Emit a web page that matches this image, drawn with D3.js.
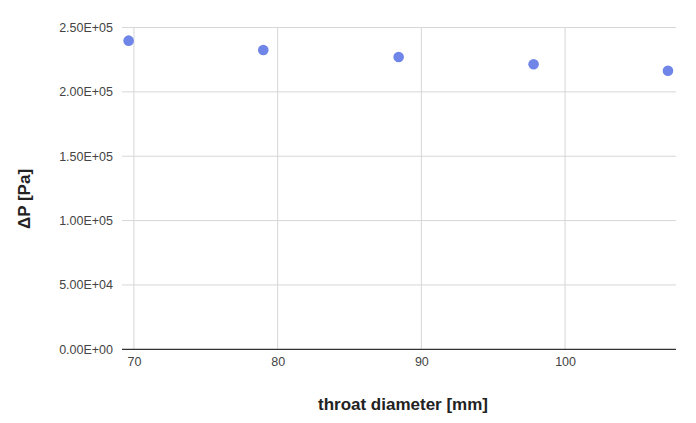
<!DOCTYPE html>
<html>
<head>
<meta charset="utf-8">
<script src="https://cdn.jsdelivr.net/npm/d3@7"></script>
<style>
  body { margin: 0; background: #fff; font-family: "Liberation Sans", Arial, sans-serif; }
  .grid line { stroke: #d6d6d6; stroke-width: 1; }
  .tick text { fill: #444; font-size: 12.5px; }
</style>
</head>
<body>
<svg id="chart"></svg>
<script>
  // data
  let throatDiameter = [69.63, 79.0, 88.42, 97.81, 107.16]   // mm
  let pressureDrop = [239800, 232500, 227100, 221400, 216400]  // Pa
  let yTicks = [0, 50000, 100000, 150000, 200000, 250000]
  let xTicks = [70, 80, 90, 100]

  let width = 696, height = 423
  let margin = { top: 27.5, right: 20, bottom: 73.7, left: 122 }
  let bodyWidth = width - margin.left - margin.right
  let bodyHeight = height - margin.top - margin.bottom

  let svg = d3.select("#chart").attr("width", width).attr("height", height)

  let x = d3.scaleLinear().domain([69.17, 107.72]).range([0, bodyWidth])
  let y = d3.scaleLinear().domain([0, 250000]).range([bodyHeight, 0])

  let body = svg.append("g").attr("transform", `translate(${margin.left},${margin.top})`)

  // horizontal gridlines
  body.append("g").attr("class", "grid")
    .selectAll("line").data(yTicks.slice(1)).enter().append("line")
    .attr("x1", 0).attr("x2", bodyWidth)
    .attr("y1", d => y(d)).attr("y2", d => y(d))

  // vertical gridlines
  body.append("g").attr("class", "grid")
    .selectAll("line").data(xTicks).enter().append("line")
    .attr("x1", d => x(d)).attr("x2", d => x(d))
    .attr("y1", 0).attr("y2", bodyHeight)

  // y axis labels (no domain line)
  let axisY = d3.axisLeft(y).tickValues(yTicks).tickSize(0).tickPadding(9)
    .tickFormat(d => {
      let s = d.toExponential(2).toUpperCase()
      return s.replace(/E([+-])(\d)$/, "E$10$2")
    })
  body.append("g").call(axisY).call(g => g.select(".domain").remove())

  // x axis labels
  let axisX = d3.axisBottom(x).tickValues(xTicks).tickSize(0).tickPadding(8)
  body.append("g").attr("transform", `translate(0,${bodyHeight})`)
    .call(axisX).call(g => g.select(".domain").remove())

  // baseline
  body.append("line")
    .attr("x1", 0).attr("x2", bodyWidth)
    .attr("y1", y(0)).attr("y2", y(0))
    .attr("stroke", "#333").attr("stroke-width", 1.3)

  // points
  body.selectAll("circle").data(throatDiameter).enter().append("circle")
    .attr("cx", d => x(d))
    .attr("cy", (d, i) => y(pressureDrop[i]))
    .attr("r", 5.3)
    .attr("fill", "#6f86e8")

  // axis titles
  svg.append("text")
    .attr("x", 403).attr("y", 410)
    .attr("text-anchor", "middle")
    .attr("font-weight", "bold").attr("font-size", "17px").attr("fill", "#222")
    .text("throat diameter [mm]")

  svg.append("text")
    .attr("transform", "translate(30,199) rotate(-90)")
    .attr("text-anchor", "middle")
    .attr("font-weight", "bold").attr("font-size", "17px").attr("fill", "#222")
    .text("ΔP [Pa]")
</script>
</body>
</html>
